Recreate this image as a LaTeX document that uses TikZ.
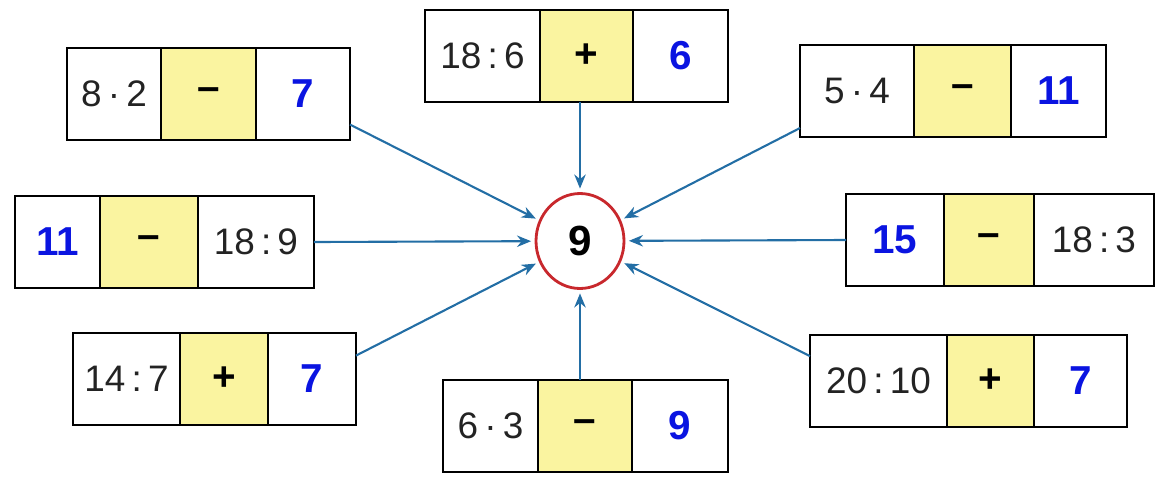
\documentclass[tikz,border=0pt]{standalone}
\usepackage{fontspec}
\setmainfont{Liberation Sans}
\usetikzlibrary{positioning,arrows.meta,shapes.geometric}

\definecolor{opyellow}{RGB}{250,244,160}
\definecolor{ansblue}{RGB}{10,20,225}
\definecolor{linkblue}{RGB}{35,110,165}
\definecolor{ringred}{RGB}{200,40,45}
\definecolor{numgray}{RGB}{35,35,35}

\tikzset{
  cell/.style={draw, line width=1.2pt, outer sep=0pt, inner sep=0pt,
    minimum height=1.84cm, text=numgray, font=\fontsize{21}{24}\selectfont},
  op/.style={cell, fill=opyellow, text=black, font=\fontsize{23}{24}\selectfont\bfseries},
  ans/.style={cell, text=ansblue, font=\fontsize{23}{24}\selectfont\bfseries},
  link/.style={-{Stealth[length=8pt,width=6.5pt]}, linkblue, line width=1.2pt, shorten >=2pt}
}

\begin{document}
\begin{tikzpicture}[x=0.02cm, y=-0.02cm]
	\useasboundingbox (0,0) rectangle (1176,491);
	% Centre
	\node[ellipse, draw=ringred, line width=1.6pt, minimum width=1.76cm, minimum height=1.9cm,
	  font=\fontsize{24}{24}\selectfont\bfseries] (c) at (580,241) {9};
	% Top left
	\node[cell, minimum width=1.88cm, anchor=west] (tlA) at (67,94) {8\,·\,2};
	\node[op, minimum width=1.9cm, right=0pt of tlA] (tlB) {\textendash};
	\node[ans, minimum width=1.88cm, right=0pt of tlB] (tlC) {7};
	% Top centre
	\node[cell, minimum width=2.3cm, anchor=west] (tcA) at (425,56) {18\,:\,6};
	\node[op, minimum width=1.86cm, right=0pt of tcA] (tcB) {+};
	\node[ans, minimum width=1.9cm, right=0pt of tcB] (tcC) {6};
	% Top right
	\node[cell, minimum width=2.28cm, anchor=west] (trA) at (800,91) {5\,·\,4};
	\node[op, minimum width=1.94cm, right=0pt of trA] (trB) {\textendash};
	\node[ans, minimum width=1.9cm, right=0pt of trB] (trC) {11};
	% Middle left
	\node[ans, minimum width=1.7cm, anchor=west] (mlA) at (15,242) {11};
	\node[op, minimum width=1.96cm, right=0pt of mlA] (mlB) {\textendash};
	\node[cell, minimum width=2.32cm, right=0pt of mlB] (mlC) {18\,:\,9};
	% Middle right
	\node[ans, minimum width=1.96cm, anchor=west] (mrA) at (846,240) {15};
	\node[op, minimum width=1.8cm, right=0pt of mrA] (mrB) {\textendash};
	\node[cell, minimum width=2.4cm, right=0pt of mrB] (mrC) {18\,:\,3};
	% Bottom left
	\node[cell, minimum width=2.14cm, anchor=west] (blA) at (73,379) {14\,:\,7};
	\node[op, minimum width=1.76cm, right=0pt of blA] (blB) {+};
	\node[ans, minimum width=1.76cm, right=0pt of blB] (blC) {7};
	% Bottom centre
	\node[cell, minimum width=1.9cm, anchor=west] (bcA) at (443,426) {6\,·\,3};
	\node[op, minimum width=1.88cm, right=0pt of bcA] (bcB) {\textendash};
	\node[ans, minimum width=1.92cm, right=0pt of bcB] (bcC) {9};
	% Bottom right
	\node[cell, minimum width=2.74cm, anchor=west] (brA) at (810,381) {20\,:\,10};
	\node[op, minimum width=1.74cm, right=0pt of brA] (brB) {+};
	\node[ans, minimum width=1.86cm, right=0pt of brB] (brC) {7};
	% Arrows into the centre
	\draw[link] (tlC.-33) -- (c);
	\draw[link] (c |- tcB.south) -- (c);
	\draw[link] (trA.213) -- (c);
	\draw[link] (mlC.east) -- (c);
	\draw[link] (mrA.west) -- (c);
	\draw[link] (blC.28) -- (c);
	\draw[link] (c |- bcB.north) -- (c);
	\draw[link] (brA.160) -- (c);
\end{tikzpicture}
\end{document}
